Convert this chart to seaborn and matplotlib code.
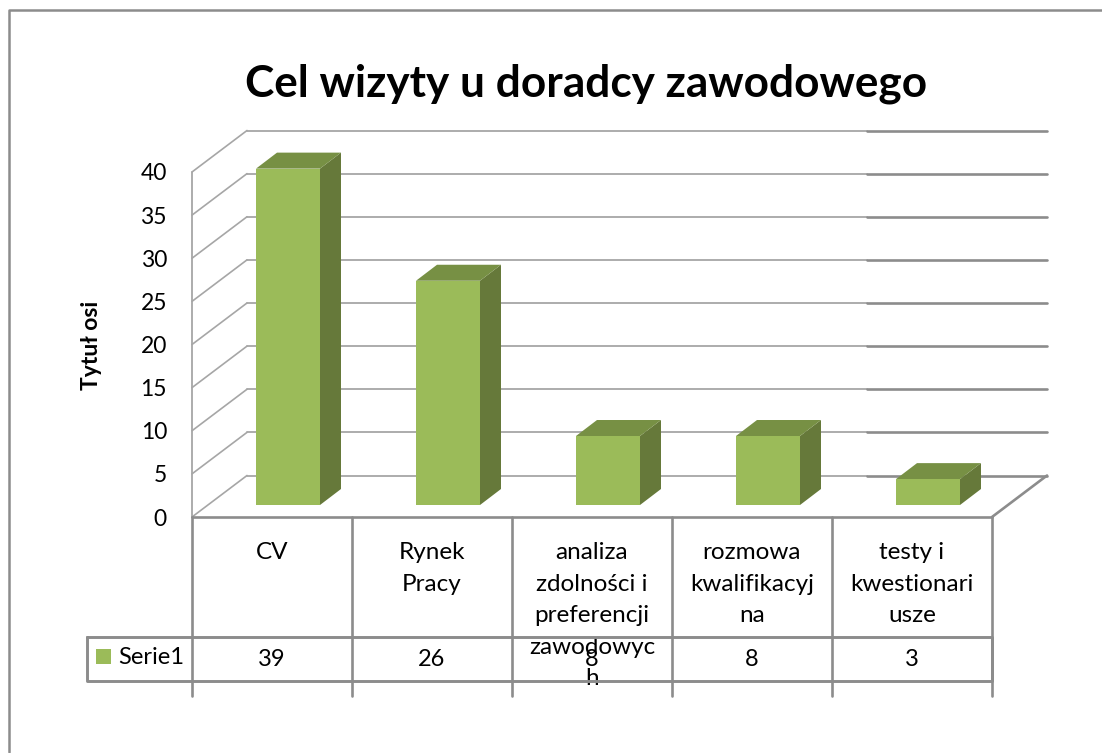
import matplotlib
matplotlib.use("Agg")
import matplotlib.pyplot as plt
import pandas as pd
import seaborn as sns
from matplotlib.patches import Polygon, Rectangle
from matplotlib.transforms import Affine2D, blended_transform_factory

categories = ["CV", "Rynek\nPracy", "analiza\nzdolności i\npreferencji\nzawodowyc\nh",
              "rozmowa\nkwalifikacyj\nna", "testy i\nkwestionari\nusze"]
values = [39, 26, 8, 8, 3]
series_name = "Serie1"
y_ticks = [0, 5, 10, 15, 20, 25, 30, 35, 40]
title = "Cel wizyty u doradcy zawodowego"
y_title = "Tytuł osi"

W, H = 1102, 753
FRONT, SIDE, TOP = "#9BBB59", "#66793A", "#779044"
GRID = "#8C8C8C"
LIGHT = "#A6A6A6"

sns.set_theme(style="white")
plt.rcParams["font.family"] = ["Lato", "DejaVu Sans"]

fig = plt.figure(figsize=(W / 100, H / 100), dpi=100)
ax = fig.add_axes([192 / W, 1 - 517 / H, 800 / W, 345 / H])
ax.patch.set_alpha(0)
px = Affine2D().scale(1, -1).translate(0, H)

df = pd.DataFrame({"cat": categories, "value": values})
sns.barplot(data=df, x="cat", y="value", color=FRONT, saturation=1, width=0.4, ax=ax, zorder=3)
ax.set_xlim(-0.5, 4.5)
ax.set_ylim(0, 40)
for s in ax.spines.values():
    s.set_visible(False)
ax.set_xlabel("")
ax.set_ylabel("")

# pixel shifts of the pseudo-3D scene
wall = ax.transData + Affine2D().translate(55, 41.5)
bar_shift = ax.transData + Affine2D().translate(16, 12)
for p, v in zip(ax.patches, values):
    x0, w = p.get_x(), p.get_width()
    p.set_transform(bar_shift)
    p.set_clip_on(False)
    p.set_linewidth(0)
    side = Affine2D().translate(21, 16)
    a = bar_shift.transform([(x0 + w, 0), (x0 + w, v), (x0, v)])
    b = side.transform(a)
    ax.add_patch(Polygon([a[0], a[1], b[1], b[0]], closed=True, transform=None, fc=SIDE, lw=0, zorder=2.9, clip_on=False))
    ax.add_patch(Polygon([a[2], a[1], b[1], b[2]], closed=True, transform=None, fc=TOP, lw=0, zorder=2.9, clip_on=False))

# walls: gridlines on the back wall, diagonals on the side wall
split = 4.5 - 180 / 160
for t in y_ticks:
    ax.plot([-0.5, split], [t, t], color=LIGHT, lw=1.3, transform=wall, clip_on=False, zorder=1)
    ax.plot([split, 4.5], [t, t], color=GRID, lw=1.9, transform=wall, clip_on=False, zorder=1)
    f = ax.transData.transform((-0.5, t))
    g = wall.transform((-0.5, t))
    ax.plot([f[0], g[0]], [f[1], g[1]], color=LIGHT, lw=1.2, transform=None, clip_on=False, zorder=1)
ax.plot([-0.5, -0.5], [0, 40], color=LIGHT, lw=1.3, clip_on=False, zorder=1)
f = ax.transData.transform((4.5, 0))
g = wall.transform((4.5, 0))
ax.plot([f[0], g[0]], [f[1], g[1]], color=GRID, lw=1.9, transform=None, clip_on=False, zorder=1)
ax.plot([-0.5, 4.5], [0, 0], color=GRID, lw=1.9, clip_on=False, zorder=2)

# data table
vert = blended_transform_factory(ax.transData, px)
for i in range(6):
    ax.plot([i - 0.5, i - 0.5], [517, 696], color=GRID, lw=1.9, transform=vert, clip_on=False, zorder=2)
ax.plot([87, 992, 992, 87, 87], [637, 637, 681, 681, 637], color=GRID, lw=2.1, transform=px, clip_on=False, zorder=2)
ax.add_patch(Rectangle((96, 649), 15, 15, transform=px, fc=FRONT, lw=0, clip_on=False))
ax.text(118, 658, series_name, transform=px, ha="left", va="center", fontsize=17, color="black")
for i, v in enumerate(values):
    ax.text(i, 660, str(v), transform=vert, ha="center", va="center", fontsize=17, color="black", zorder=4)

ax.set_xticks(range(5))
ax.set_xticklabels(categories, fontsize=17.5, color="black", linespacing=1.62, va="top")
ax.tick_params(axis="x", length=0, pad=18)
ax.set_yticks(y_ticks)
ax.set_yticklabels([str(t) for t in y_ticks], fontsize=16.5, color="black")
ax.tick_params(axis="y", length=0, pad=18)

fig.text(586 / W, 1 - 84 / H, title, ha="center", va="center", fontsize=31.8, fontweight="bold", color="black")
fig.text(91 / W, 1 - 345 / H, y_title, ha="center", va="center", rotation=90, fontsize=16.5, fontweight="bold", color="black")

# chart area frame
fig.add_artist(plt.Line2D([1102, 9, 9], [10, 10, 752], transform=px, color=GRID, lw=1.8))

fig.savefig("out.png", dpi=100, facecolor="white")
